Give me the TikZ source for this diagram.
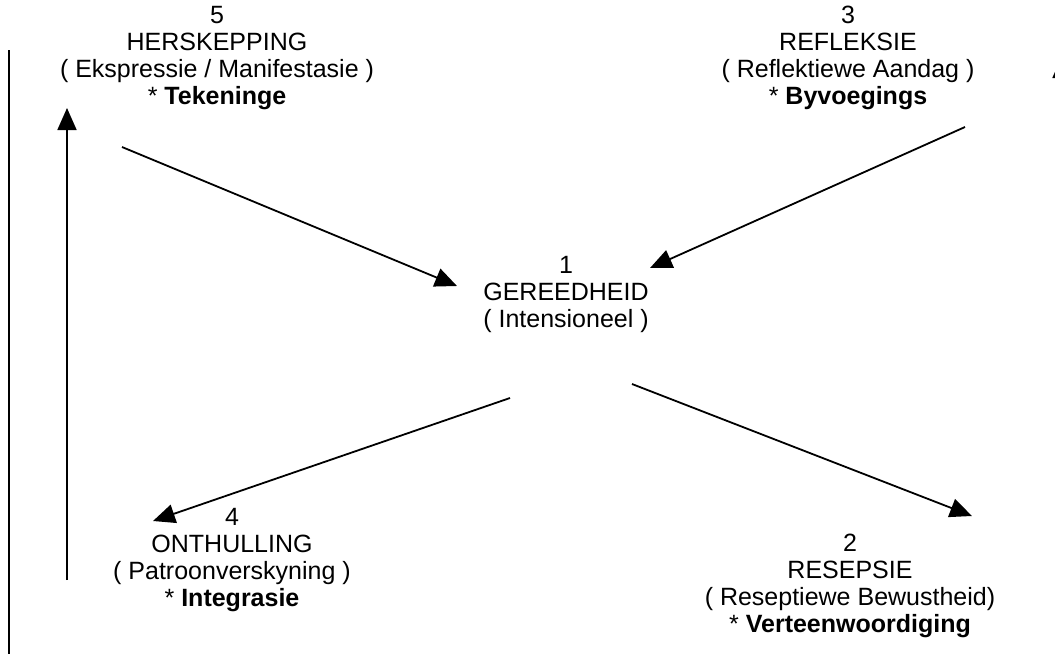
\documentclass[tikz,border=0pt]{standalone}
\usepackage{fontspec}
\setmainfont{Liberation Sans}
\usepackage{xcolor}
\usepackage{tikz}
\usetikzlibrary{positioning,arrows.meta}
\definecolor{stageink}{RGB}{0,0,0}

\begin{document}
\begin{tikzpicture}[x=1pt,y=-1pt,
  stage/.style={align=center,text=stageink,inner sep=0pt,font=\fontsize{25}{27}\selectfont},
  flow/.style={draw=stageink,line width=1.8pt,-{Triangle[length=22pt,width=19pt]}}]
\useasboundingbox (0,0) rectangle (1055,654);
% stages
\node[stage] (gereed) at (566,294) {1\\GEREEDHEID\\( Intensioneel )};
\node[stage] (resepsie) at (850,586) {2\\RESEPSIE\\( Reseptiewe Bewustheid)\\* \textbf{Verteenwoordiging}};
\node[stage] (refleksie) at (848,58) {3\\REFLEKSIE\\( Reflektiewe Aandag )\\* \textbf{Byvoegings}};
\node[stage] (onthulling) at (232,560) {4\\ONTHULLING\\( Patroonverskyning )\\* \textbf{Integrasie}};
\node[stage] (herskepping) at (217,58) {5\\HERSKEPPING\\( Ekspressie / Manifestasie )\\* \textbf{Tekeninge}};
% arrow ends
\coordinate (h1) at (122,147);  \coordinate (h2) at (457,286);
\coordinate (r1) at (965,127);  \coordinate (r2) at (650,268);
\coordinate (g1) at (510,398);  \coordinate (g2) at (153,521);
\coordinate (g3) at (632,384);  \coordinate (g4) at (972,516);
\coordinate (o1) at (67,580);   \coordinate (o2) at (67,108);
\coordinate (e1) at (1062,300); \coordinate (e2) at (1062,56);
\coordinate (b1) at (9,50);     \coordinate (b2) at (9,654);
\draw[flow] (h1) -- (h2);
\draw[flow] (r1) -- (r2);
\draw[flow] (g1) -- (g2);
\draw[flow] (g3) -- (g4);
\draw[flow] (o1) -- (o2);
\draw[flow] (e1) -- (e2);
\draw[draw=stageink,line width=1.8pt] (b1) -- (b2);
\end{tikzpicture}
\end{document}
